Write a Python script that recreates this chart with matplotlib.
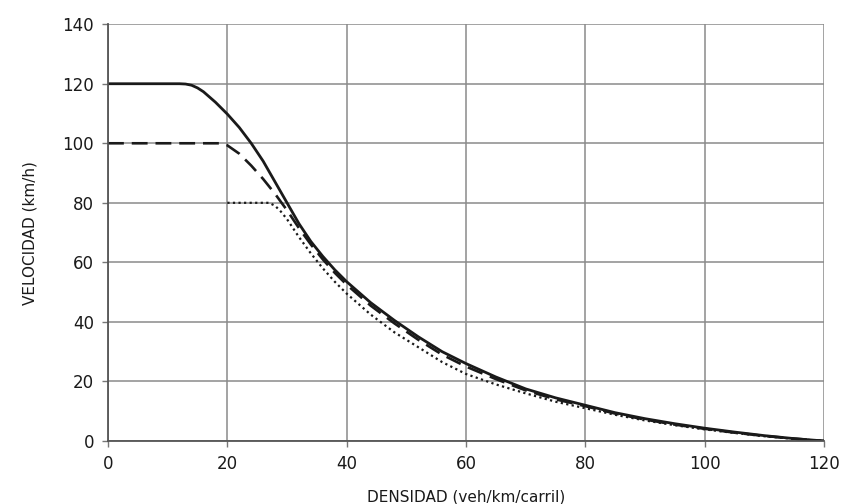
import matplotlib
matplotlib.use('Agg')
import matplotlib.pyplot as plt

# velocidad vs densidad, tres curvas (120, 100 y 80 km/h)
dens_120 = [0, 12, 13, 14, 15, 16, 18, 20, 22, 24, 26, 28, 30, 32, 34, 36, 38, 40, 44, 48,
            52, 56, 60, 65, 70, 75, 80, 85, 90, 95, 100, 105, 110, 115, 120]
vel_120 = [120, 120, 119.9, 119.5, 118.6, 117.3, 113.8, 109.8, 105.3, 100, 94, 87, 80, 73,
           67, 62, 57.5, 53.5, 46.5, 40.5, 35, 30, 26, 21.5, 17.5, 14.5, 12, 9.5, 7.5,
           5.8, 4.3, 3, 1.8, 0.8, 0]

dens_100 = [0, 19, 20, 22, 24, 26, 28, 30, 32, 34, 36, 38, 40, 44, 48, 52, 56, 60,
            65, 70, 75, 80, 85, 90, 95, 100, 105, 110, 115, 120]
vel_100 = [100, 100, 99.3, 96.5, 92.5, 88, 83, 77.5, 71.5, 66, 61, 56.5, 52.5, 45.5,
           39.5, 34, 29, 25, 20.8, 17, 14, 11.7, 9.2, 7.2, 5.5, 4.1, 2.8, 1.7, 0.8, 0]

dens_80 = [20, 27, 28, 29, 30, 32, 34, 36, 38, 40, 44, 48, 52, 56, 60, 65, 70, 75,
           80, 85, 90, 95, 100, 105, 110, 115, 120]
vel_80 = [80, 80, 79, 77, 74.5, 68.5, 63, 58, 53.5, 49.5, 42.5, 36.5, 31.5, 26.5,
          22.5, 19, 16, 13.2, 11, 8.8, 6.9, 5.3, 3.9, 2.7, 1.6, 0.7, 0]

xticks = [0, 20, 40, 60, 80, 100, 120]
yticks = [0, 20, 40, 60, 80, 100, 120, 140]

fig = plt.figure(figsize=(8.62, 5.04), dpi=100)
ax = fig.add_axes([0.1253, 0.125, 0.8307, 0.827])

ax.set_xlim(0, 120)
ax.set_ylim(0, 140)
ax.set_xticks(xticks)
ax.set_yticks(yticks)
ax.grid(True, color='#8a8a8a', linewidth=1.1)
ax.set_axisbelow(True)

ax.plot(dens_120, vel_120, color='#1a1a1a', lw=2.0, solid_capstyle='butt')
ax.plot(dens_100, vel_100, color='#1a1a1a', lw=1.9, dashes=(6, 3))
ax.plot(dens_80, vel_80, color='#1a1a1a', lw=1.6, dashes=(1, 1.5))

for s in ['top', 'right']:
    ax.spines[s].set_visible(False)
for s in ['left', 'bottom']:
    ax.spines[s].set_color('#555555')
    ax.spines[s].set_linewidth(1.3)

ax.tick_params(axis='both', direction='out', length=4, width=1, color='#777777',
               labelsize=12, labelcolor='#1a1a1a')
ax.tick_params(axis='y', pad=6)
ax.tick_params(axis='x', pad=6)

ax.set_xlabel('DENSIDAD (veh/km/carril)', fontsize=11, color='#1a1a1a', labelpad=12)
ax.set_ylabel('VELOCIDAD (km/h)', fontsize=11, color='#1a1a1a', labelpad=18)

fig.savefig('out.png', dpi=100, facecolor='white')
